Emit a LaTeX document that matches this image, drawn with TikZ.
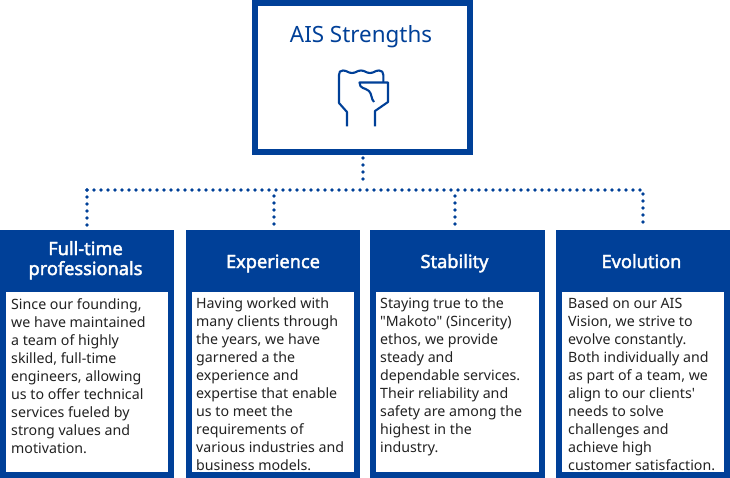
\documentclass[tikz,border=0pt]{standalone}
\usepackage{fontspec}
\setmainfont{Noto Sans}
\newfontfamily\bodyfont{Noto Sans}
\newfontfamily\headfont[FakeBold=2.2]{Noto Sans}
\definecolor{aisblue}{HTML}{004098}
\definecolor{bodyink}{HTML}{222222}
\tikzset{
  topbox/.style={draw=aisblue,line width=6pt,fill=white,minimum width=215pt,minimum height=149pt,inner sep=0pt,outer sep=0pt},
  cardback/.style={fill=aisblue,inner sep=0pt,outer sep=0pt,minimum height=248pt,anchor=north west},
  cardinner/.style={fill=white,inner sep=0pt,outer sep=0pt,minimum height=180pt,anchor=north west},
  cardhead/.style={text=white,inner sep=0pt,align=center,anchor=base,font=\headfont\fontsize{18.2}{20}\selectfont},
  bodytext/.style={anchor=north west,inner sep=0pt,align=left,text=bodyink,font=\bodyfont\fontsize{14.2}{18}\selectfont},
  dotline/.style={draw=aisblue,line width=3.7pt,line cap=round,dash pattern=on 0pt off 7pt},
  iconline/.style={draw=aisblue,line width=2.1pt,line join=round}
}
\begin{document}
\begin{tikzpicture}[x=1pt,y=-1pt]
\useasboundingbox (0,0) rectangle (730,478);
% top box
\node[topbox,anchor=north west] (top) at (255,3) {};
\node[text=aisblue,inner sep=0pt,anchor=base,font=\bodyfont\fontsize{22.4}{26}\selectfont] (toptitle) at (361,42.5) {AIS Strengths};
% fist icon
\draw[iconline] (347,126.5) -- (347,112) -- (339,103) -- (339,75)
  .. controls (339,72) and (340,70.5) .. (343,70.5)
  .. controls (347,70.5) and (348,73) .. (352,73)
  .. controls (356,73) and (357,70.5) .. (361,70.5)
  .. controls (365,70.5) and (366,73) .. (370,73)
  .. controls (374,73) and (375,70.5) .. (379,70.5)
  .. controls (382,70.5) and (383.3,72) .. (383.3,75) -- (383.3,82.5);
\draw[iconline] (374,102) .. controls (371,99) and (372,94) .. (369,91)
  .. controls (365,87.5) and (359.5,89) .. (359.5,82.5) -- (388,82.5) -- (388,102) -- (375,111) -- (375,126.5);
% cards
\node[cardback,minimum width=174pt] (c1) at (0,230) {};
\node[cardback,minimum width=174pt] (c2) at (186,230) {};
\node[cardback,minimum width=175pt] (c3) at (370,230) {};
\node[cardback,minimum width=174pt] (c4) at (556,230) {};
\node[cardinner,minimum width=162pt] (i1) at (6,292) {};
\node[cardinner,minimum width=162pt] (i2) at (192,292) {};
\node[cardinner,minimum width=163pt] (i3) at (376,292) {};
\node[cardinner,minimum width=162pt] (i4) at (562,292) {};
\node[cardhead] (h1a) at (85.5,255) {Full-time};
\node[cardhead] (h1b) at (85.5,275) {professionals};
\node[cardhead] (h2) at (273,268) {Experience};
\node[cardhead] (h3) at (454.5,268) {Stability};
\node[cardhead] (h4) at (641.5,268) {Evolution};
\node[bodytext] (b1) at (11,298) {Since our founding,\\we have maintained\\a team of highly\\skilled, full-time\\engineers, allowing\\us to offer technical\\services fueled by\\strong values and\\motivation.};
\node[bodytext] (b2) at (196,298) {Having worked with\\many clients through\\the years, we have\\garnered a the\\experience and\\expertise that enable\\us to meet the\\requirements of\\various industries and\\business models.};
\node[bodytext] (b3) at (380,298) {Staying true to the\\"Makoto" (Sincerity)\\ethos, we provide\\steady and\\dependable services.\\Their reliability and\\safety are among the\\highest in the\\industry.};
\node[bodytext] (b4) at (568,298) {Based on our AIS\\Vision, we strive to\\evolve constantly.\\Both individually and\\as part of a team, we\\align to our clients'\\needs to solve\\challenges and\\achieve high\\customer satisfaction.};
% connectors
\coordinate (bus) at (363,184);
\coordinate (busL) at (87,190);
\coordinate (bus2) at (274,196);
\coordinate (bus3) at (455,196);
\coordinate (busR) at (643,190);
\coordinate (top1) at (363,158);
\coordinate (c1t) at (87,228);
\coordinate (c2t) at (274,228);
\coordinate (c3t) at (455,228);
\coordinate (c4t) at (643,228);
\draw[dotline] (top1) -- (bus);
\draw[dotline] (busL) -- (c1t);
\draw[dotline] (busL) -- (busR) -- (c4t);
\draw[dotline] (bus2) -- (c2t);
\draw[dotline] (bus3) -- (c3t);
\end{tikzpicture}
\end{document}
